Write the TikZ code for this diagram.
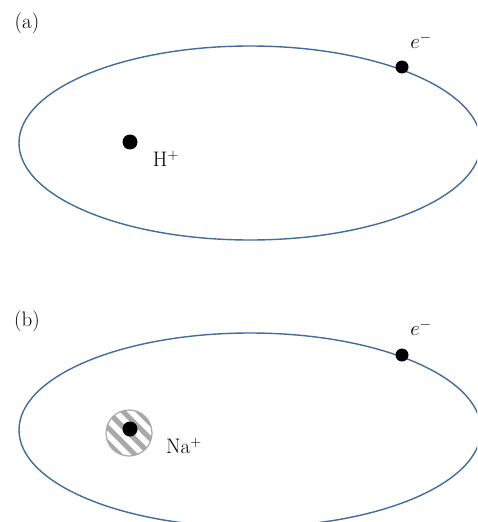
\documentclass[tikz,border=0pt]{standalone}
\usepackage{amsmath}
\usepackage{tikz}
\usetikzlibrary{arrows.meta}
\definecolor{orbitblue}{RGB}{64,109,158}
\definecolor{stripegray}{RGB}{168,168,168}
\tikzset{
orbit/.style={draw=orbitblue,line width=1.4pt},
particle/.style={circle,fill=black,inner sep=0pt},
lbl/.style={font=\fontsize{21}{25}\selectfont,inner sep=0pt},
stripe/.style={stripegray,line width=5pt}
}
\begin{document}
\begin{tikzpicture}[x={(1pt,0)},y={(0,-1pt)},>=stealth]
\useasboundingbox(0,0)rectangle(477,522);
\clip(0,0)rectangle(477,522);
% (a) hydrogen
\node[lbl](tagA)at(27,23){(a)};
\draw[orbit](250,143)ellipse(231pt and 97pt);
\node[particle,minimum size=13pt](elecA)at(402,67){};
\node[lbl](eA)at(421,41){$e^-$};
\node[particle,minimum size=15pt](nucA)at(130,142){};
\node[lbl](hplus)at(166,159){H$^+$};
% (b) sodium
\node[lbl](tagB)at(27,321){(b)};
\draw[orbit](250,430)ellipse(231pt and 97pt);
\begin{scope}
\clip(129,433)circle(23pt);
\fill[white](129,433)circle(23pt);
\foreach \s in {-33,-22,...,33}
\draw[stripe]({129+0.707*\s-30},{433-0.707*\s-30})--({129+0.707*\s+30},{433-0.707*\s+30});
\end{scope}
\node[circle,draw=stripegray,line width=1.2pt,minimum size=46pt,inner sep=0pt](core)at(129,433){};
\node[particle,minimum size=15pt](nucB)at(130,429){};
\node[particle,minimum size=13pt](elecB)at(402,355){};
\node[lbl](eB)at(421,328){$e^-$};
\node[lbl](naplus)at(184,446){Na$^+$};
\end{tikzpicture}
\end{document}
